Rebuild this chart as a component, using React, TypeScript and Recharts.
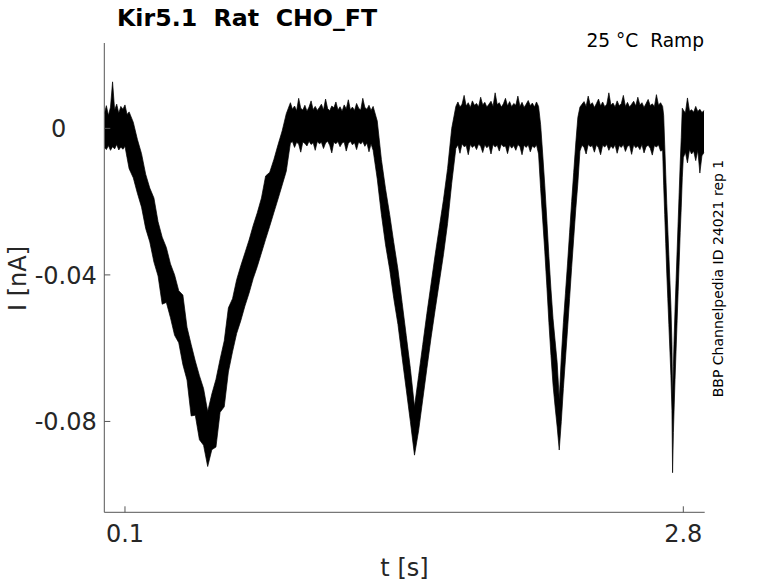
import { AreaChart, Area, XAxis, YAxis } from 'recharts';

const FONT = '"DejaVu Sans", sans-serif';
const AXIS = '#555555';
const INK = '#262626';

// time samples [s], grouped by protocol segment
const time = [
  // rest
  0.0, 0.01, 0.02, 0.03, 0.04, 0.05, 0.06, 0.07, 0.08, 0.09, 0.1, 0.11,
  // ramp 1
  0.12, 0.14, 0.16, 0.18, 0.2, 0.22, 0.24, 0.26, 0.28, 0.3, 0.32, 0.34, 0.36, 0.38, 0.4, 0.42, 0.44, 0.46, 0.48, 0.5,
  0.52, 0.54, 0.56, 0.58, 0.6, 0.62, 0.64, 0.66, 0.68, 0.7, 0.72, 0.74, 0.76, 0.78, 0.8, 0.82, 0.84, 0.86, 0.88,
  // rest
  0.9, 0.91, 0.92, 0.93, 0.94, 0.95, 0.96, 0.97, 0.98, 0.99, 1.0, 1.01, 1.02, 1.03, 1.04, 1.05, 1.06, 1.07, 1.08, 1.09,
  1.1, 1.11, 1.12, 1.13, 1.14, 1.15, 1.16, 1.17, 1.18, 1.19, 1.2, 1.21, 1.22, 1.23, 1.24, 1.25, 1.26, 1.27, 1.28, 1.29, 1.3,
  // ramp 2
  1.32, 1.34, 1.36, 1.38, 1.4, 1.42, 1.44, 1.46, 1.48, 1.5, 1.52, 1.54, 1.56, 1.58, 1.6, 1.62, 1.64, 1.66, 1.68,
  // rest
  1.7, 1.71, 1.72, 1.73, 1.74, 1.75, 1.76, 1.77, 1.78, 1.79, 1.8, 1.81, 1.82, 1.83, 1.84, 1.85, 1.86, 1.87, 1.88, 1.89,
  1.9, 1.91, 1.92, 1.93, 1.94, 1.95, 1.96, 1.97, 1.98, 1.99, 2.0, 2.01, 2.02, 2.03, 2.04, 2.05, 2.06, 2.07, 2.08, 2.09, 2.1,
  // ramp 3
  2.11, 2.12, 2.13, 2.14, 2.15, 2.16, 2.17, 2.18, 2.19, 2.2, 2.21, 2.22, 2.23, 2.24, 2.25, 2.26, 2.27, 2.28, 2.29,
  // rest
  2.3, 2.31, 2.32, 2.33, 2.34, 2.35, 2.36, 2.37, 2.38, 2.39, 2.4, 2.41, 2.42, 2.43, 2.44, 2.45, 2.46, 2.47, 2.48, 2.49,
  2.5, 2.51, 2.52, 2.53, 2.54, 2.55, 2.56, 2.57, 2.58, 2.59, 2.6, 2.61, 2.62, 2.63, 2.64, 2.65, 2.66, 2.67, 2.68, 2.69, 2.7,
  // ramp 4
  2.705, 2.71, 2.715, 2.72, 2.725, 2.73, 2.735, 2.74, 2.745, 2.748, 2.752, 2.756, 2.76, 2.765, 2.77, 2.775, 2.78, 2.785, 2.79, 2.795,
  // rest
  2.8, 2.81, 2.82, 2.83, 2.84, 2.85, 2.86, 2.87, 2.88, 2.89, 2.9,
];

// top edge of the noisy trace [nA]
const upper = [
  0.004, 0.0062, 0.0035, 0.0058, 0.0127, 0.005, 0.0066, 0.0041, 0.006, 0.0052, 0.0064, 0.0038,

  0.0045, 0.0017, -0.003, -0.0069, -0.0125, -0.0163, -0.019, -0.0255, -0.0297, -0.0325, -0.037, -0.04, -0.0443, -0.0455,
  -0.0543, -0.059, -0.0635, -0.0675, -0.071, -0.0773, -0.0725, -0.0685, -0.063, -0.058, -0.049, -0.0465, -0.0413, -0.0375,
  -0.034, -0.0305, -0.0265, -0.023, -0.019, -0.013, -0.012, -0.0085, -0.0045, -0.0007, 0.004,

  0.007, 0.0052, 0.0061, 0.0048, 0.0082, 0.0055, 0.005, 0.0063, 0.0047, 0.0058,
  0.0075, 0.0051, 0.006, 0.0049, 0.0057, 0.0066, 0.005, 0.008, 0.0054, 0.0048,
  0.0061, 0.0056, 0.0072, 0.005, 0.0059, 0.0047, 0.0064, 0.0053, 0.0078, 0.0051,
  0.0058, 0.0049, 0.0068, 0.0055, 0.005, 0.0082, 0.0057, 0.0052, 0.0063, 0.0049, 0.006,

  0.002, -0.0085, -0.0165, -0.0235, -0.0312, -0.0385, -0.0475, -0.0565, -0.0655, -0.076,
  -0.0675, -0.059, -0.0505, -0.0425, -0.0345, -0.027, -0.0195, -0.011, 0.0,

  0.006, 0.0072, 0.0058, 0.0066, 0.009, 0.0061, 0.007, 0.0057, 0.0075, 0.0063,
  0.0068, 0.0059, 0.0085, 0.0064, 0.0071, 0.0058, 0.0066, 0.0074, 0.006, 0.0097,
  0.0065, 0.007, 0.0058, 0.0067, 0.0082, 0.0061, 0.0073, 0.0059, 0.0068, 0.0063,
  0.0088, 0.006, 0.0071, 0.0057, 0.0066, 0.0076, 0.0062, 0.0069, 0.0058, 0.0072, 0.006,

  0.001, -0.007, -0.0155, -0.025, -0.035, -0.044, -0.052, -0.058, -0.064, -0.074,
  -0.0625, -0.053, -0.045, -0.037, -0.0285, -0.02, -0.012, -0.004, 0.003,

  0.0058, 0.0066, 0.0073, 0.006, 0.0088, 0.0064, 0.007, 0.0057, 0.0068, 0.008,
  0.0061, 0.0072, 0.0059, 0.0066, 0.0097, 0.0063, 0.0069, 0.0058, 0.0075, 0.0062,
  0.0067, 0.009, 0.006, 0.0071, 0.0058, 0.0066, 0.0074, 0.0061, 0.0085, 0.0064,
  0.007, 0.0057, 0.0068, 0.0079, 0.0062, 0.0067, 0.0059, 0.0092, 0.0063, 0.007, 0.006,

  0.0035, -0.0045, -0.0125, -0.0205, -0.0275, -0.0345, -0.0415, -0.0485, -0.059, -0.074,
  -0.065, -0.0565, -0.0495, -0.0415, -0.0335, -0.0255, -0.0175, -0.0095, -0.0025, 0.0055,

  0.005, 0.0042, 0.0083, 0.0047, 0.0051, 0.0044, 0.006, 0.0046, 0.0052, 0.0043, 0.0049,
];

// bottom edge of the noisy trace [nA]
const lower = [
  -0.0052, -0.0058, -0.0047, -0.006, -0.005, -0.0056, -0.0044, -0.0059, -0.0051, -0.0057, -0.0049, -0.008,

  -0.011, -0.0135, -0.0177, -0.0215, -0.0273, -0.031, -0.0365, -0.0403, -0.048, -0.0475, -0.0517, -0.0565, -0.0585, -0.0645,
  -0.0687, -0.0785, -0.0783, -0.085, -0.0865, -0.0923, -0.0877, -0.087, -0.0775, -0.076, -0.0665, -0.061, -0.056, -0.0525,
  -0.0485, -0.045, -0.041, -0.0377, -0.034, -0.0303, -0.0267, -0.023, -0.0193, -0.0155, -0.0117,

  -0.004, -0.0036, -0.0052, -0.0038, -0.0043, -0.0065, -0.0037, -0.0041, -0.0048, -0.0035,
  -0.0044, -0.0039, -0.006, -0.0036, -0.0042, -0.0038, -0.0055, -0.004, -0.0035, -0.0046,
  -0.0067, -0.0038, -0.0042, -0.0036, -0.005, -0.004, -0.0037, -0.0062, -0.0041, -0.0035,
  -0.0045, -0.0039, -0.0058, -0.0037, -0.0043, -0.0036, -0.0049, -0.004, -0.0064, -0.0042, -0.006,

  -0.0138, -0.0235, -0.0318, -0.0385, -0.0465, -0.0535, -0.0625, -0.0712, -0.08, -0.0892,
  -0.0825, -0.074, -0.0655, -0.0572, -0.0495, -0.042, -0.0345, -0.026, -0.015,

  -0.0055, -0.0045, -0.0068, -0.0042, -0.005, -0.0047, -0.0072, -0.0044, -0.0052, -0.0046,
  -0.0058, -0.0043, -0.0049, -0.0066, -0.0045, -0.0053, -0.0047, -0.007, -0.0044, -0.0051,
  -0.0046, -0.0062, -0.0043, -0.005, -0.0048, -0.0069, -0.0045, -0.0054, -0.0047, -0.006,
  -0.0044, -0.005, -0.0072, -0.0046, -0.0052, -0.0045, -0.0064, -0.0048, -0.0053, -0.0045, -0.007,

  -0.0165, -0.025, -0.0335, -0.043, -0.053, -0.062, -0.07, -0.076, -0.0815, -0.0878,
  -0.08, -0.071, -0.063, -0.055, -0.0465, -0.038, -0.03, -0.022, -0.015,

  -0.0062, -0.0046, -0.0052, -0.007, -0.0044, -0.005, -0.0047, -0.0065, -0.0045, -0.0053,
  -0.0072, -0.0046, -0.0051, -0.0044, -0.006, -0.0048, -0.0055, -0.0045, -0.0068, -0.0047,
  -0.0052, -0.0044, -0.0063, -0.0049, -0.0046, -0.0071, -0.0045, -0.0053, -0.0048, -0.0058,
  -0.0044, -0.0067, -0.005, -0.0046, -0.0054, -0.0073, -0.0047, -0.0051, -0.0045, -0.0062, -0.006,

  -0.0155, -0.0235, -0.0315, -0.0395, -0.0465, -0.0535, -0.0605, -0.0675, -0.077, -0.094,
  -0.083, -0.0755, -0.0685, -0.0605, -0.0525, -0.0445, -0.0365, -0.0285, -0.0215, -0.0135,

  -0.008, -0.0065, -0.0094, -0.0058, -0.007, -0.0062, -0.0088, -0.006, -0.0122, -0.0075, -0.0066,
];

const xTicks = [0.1, 2.8];
const yTicks = [-0.08, -0.04, 0];

const rows = time.map((t, i) => ({ t, band: [lower[i], upper[i]] }));

function XTick({ x, y, payload }: any) {
  return (
    <g>
      <line x1={x} x2={x} y1={y} y2={y - 6} stroke={AXIS} />
      <text x={x} y={y + 30} textAnchor="middle" fontSize={24} fill={INK} fontFamily={FONT}>
        {payload.value.toFixed(1)}
      </text>
    </g>
  );
}

function YTick({ x, y, payload }: any) {
  // matlab pads the short label to the width of the others
  const label = payload.value === 0 ? '0\u00a0\u00a0\u00a0\u00a0' : payload.value.toFixed(2);
  return (
    <g>
      <line x1={x} x2={x + 6} y1={y} y2={y} stroke={AXIS} />
      <text x={x - 7.5} y={y} dy="0.36em" textAnchor="end" fontSize={24} fill={INK} fontFamily={FONT}>
        {label}
      </text>
    </g>
  );
}

export default function App() {
  return (
    <div style={{ position: 'absolute', left: 0, top: 0, width: 778, height: 583, background: '#fff' }}>
      <AreaChart width={778} height={583} data={rows} margin={{ top: 43, right: 73.3, bottom: 40.7, left: 44.3 }}>
        <XAxis
          dataKey="t"
          type="number"
          domain={[0, 2.9034]}
          allowDataOverflow
          ticks={xTicks}
          interval={0}
          tickSize={0}
          tickMargin={0}
          tickLine={false}
          tick={XTick}
          axisLine={{ stroke: AXIS }}
          height={30}
        />
        <YAxis
          type="number"
          domain={[-0.1048, 0.0233]}
          allowDataOverflow
          ticks={yTicks}
          interval={0}
          tickSize={0}
          tickMargin={0}
          tickLine={false}
          tick={YTick}
          axisLine={{ stroke: AXIS }}
          width={60}
        />
        <Area
          type="linear"
          dataKey="band"
          stroke="#000"
          strokeWidth={0.7}
          fill="#000"
          fillOpacity={1}
          dot={false}
          activeDot={false}
          isAnimationActive={false}
        />
      </AreaChart>
      <svg width={778} height={583} style={{ position: 'absolute', left: 0, top: 0, pointerEvents: 'none' }} fontFamily={FONT}>
        <text x={117} y={26} fontSize={23.7} fontWeight="bold" fill="#000" style={{ whiteSpace: 'pre' }}>
          Kir5.1  Rat  CHO_FT
        </text>
        <text x={704} y={46.7} fontSize={18.6} textAnchor="end" fill="#000" style={{ whiteSpace: 'pre' }}>
          25 °C  Ramp
        </text>
        <text x={723} y={278.5} fontSize={14} textAnchor="middle" fill="#000" transform="rotate(-90 723 278.5)">
          BBP Channelpedia ID 24021 rep 1
        </text>
        <text x={26} y={278.5} fontSize={24} textAnchor="middle" fill={INK} transform="rotate(-90 26 278.5)">
          I [nA]
        </text>
        <text x={404.5} y={576} fontSize={24} textAnchor="middle" fill={INK}>
          t [s]
        </text>
      </svg>
    </div>
  );
}
